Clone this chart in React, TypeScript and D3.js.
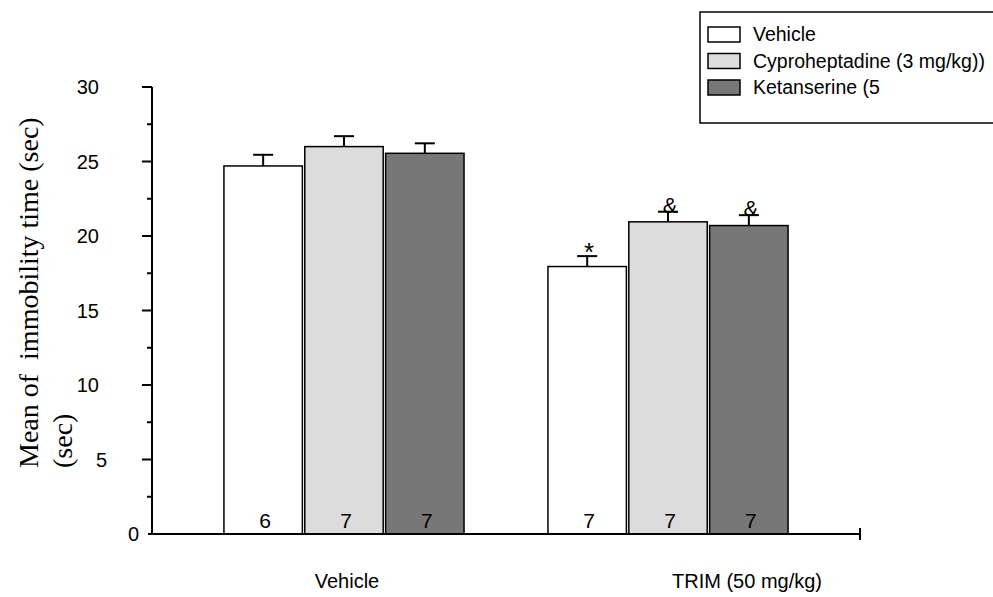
import React from "react";
import * as d3 from "d3";

const groups = ["Vehicle", "TRIM (50 mg/kg)"];
const seriesNames = ["Vehicle", "Cyproheptadine (3 mg/kg))", "Ketanserine (5"];
const seriesFill = ["#ffffff", "#dcdcdc", "#777777"];
const vehicleMeans = [24.7, 26.0, 25.55];
const trimMeans = [17.95, 20.95, 20.7];
const vehicleSem = [0.75, 0.7, 0.67];
const trimSem = [0.7, 0.68, 0.7];
const vehicleN = [6, 7, 7];
const trimN = [7, 7, 7];
const vehicleMarks = ["", "", ""];
const trimMarks = ["*", "&", "&"];
const yTickValues = [0, 5, 10, 15, 20, 25, 30];
const yMinorValues = [2.5, 7.5, 12.5, 17.5, 22.5, 27.5];

const W = 993;
const H = 597;
const AXIS_X0 = 152;
const AXIS_X1 = 860;
const sans = "'Liberation Sans', Arial, sans-serif";
const serif = "'Liberation Serif', 'Times New Roman', serif";

export default function App() {
  const y = d3.scaleLinear().domain([0, 30]).range([534, 87]);
  const x0 = d3
    .scaleBand<string>()
    .domain(groups)
    .range([AXIS_X0, AXIS_X1])
    .paddingInner(0.259)
    .paddingOuter(0.222);
  const x1 = d3
    .scaleBand<string>()
    .domain(seriesNames)
    .range([0, x0.bandwidth()])
    .paddingInner(0.03);

  const rows = [
    { g: groups[0], means: vehicleMeans, sem: vehicleSem, n: vehicleN, marks: vehicleMarks },
    { g: groups[1], means: trimMeans, sem: trimSem, n: trimN, marks: trimMarks },
  ];
  const labelShift = [3, 79];
  const y0 = y(0);

  return (
    <svg
      width={W}
      height={H}
      viewBox={`0 0 ${W} ${H}`}
      style={{ position: "absolute", left: 0, top: 0, background: "#fff" }}
    >
      <rect x={0} y={0} width={W} height={H} fill="#fff" />
      {/* bars */}
      {rows.map((r) => (
        <g key={r.g} transform={`translate(${x0(r.g)},0)`}>
          {seriesNames.map((s, si) => {
            const bx = x1(s)!;
            const bw = x1.bandwidth();
            const cx = bx + bw / 2;
            const top = y(r.means[si]);
            const capY = y(r.means[si] + r.sem[si]);
            return (
              <g key={s}>
                <line x1={cx} x2={cx} y1={top} y2={capY} stroke="#000" strokeWidth={2} />
                <line x1={cx - 10} x2={cx + 10} y1={capY} y2={capY} stroke="#000" strokeWidth={2} />
                <rect
                  x={bx}
                  y={top}
                  width={bw}
                  height={y0 - top}
                  fill={seriesFill[si]}
                  stroke="#000"
                  strokeWidth={1.5}
                />
                <text
                  x={cx + 2}
                  y={528}
                  fontFamily={sans}
                  fontSize={21}
                  textAnchor="middle"
                  fill="#000"
                >
                  {r.n[si]}
                </text>
                {r.marks[si] ? (
                  <text
                    x={cx + 2}
                    y={r.marks[si] === "*" ? capY + 5 : capY + 1}
                    fontFamily={sans}
                    fontSize={r.marks[si] === "*" ? 26 : 22}
                    textAnchor="middle"
                    fill="#000"
                  >
                    {r.marks[si]}
                  </text>
                ) : null}
              </g>
            );
          })}
        </g>
      ))}

      {/* y axis */}
      <line x1={AXIS_X0} x2={AXIS_X0} y1={y(30)} y2={y0} stroke="#000" strokeWidth={2} />
      {yTickValues.map((v) => (
        <g key={v}>
          <line
            x1={v === 0 ? AXIS_X0 - 4 : AXIS_X0 - 10}
            x2={AXIS_X0}
            y1={y(v)}
            y2={y(v)}
            stroke="#000"
            strokeWidth={2}
          />
          <text
            x={v === 0 ? 139 : v < 10 ? 107 : 99}
            y={y(v)}
            dy="0.35em"
            fontFamily={sans}
            fontSize={20}
            textAnchor="end"
            fill="#000"
          >
            {v}
          </text>
        </g>
      ))}
      {yMinorValues.map((v) => (
        <line key={v} x1={AXIS_X0 - 5} x2={AXIS_X0} y1={y(v)} y2={y(v)} stroke="#000" strokeWidth={2} />
      ))}

      {/* x axis */}
      <line x1={AXIS_X0 - 4} x2={AXIS_X1} y1={y0} y2={y0} stroke="#000" strokeWidth={2} />
      <line x1={AXIS_X1} x2={AXIS_X1} y1={y0 - 6} y2={y0 + 6} stroke="#000" strokeWidth={2} />
      {groups.map((g, i) => (
        <text
          key={g}
          x={x0(g)! + x0.bandwidth() / 2 + labelShift[i]}
          y={588}
          fontFamily={sans}
          fontSize={20}
          textAnchor="middle"
          fill="#000"
        >
          {g}
        </text>
      ))}

      {/* y title */}
      <g transform="translate(38,468) rotate(-90)">
        <text x={0} y={0} fontFamily={serif} fontSize={28} fill="#000" style={{ whiteSpace: "pre" }}>
          {"Mean of  immobility time (sec)"}
        </text>
        <text x={0} y={34} fontFamily={serif} fontSize={28} fill="#000">
          (sec)
        </text>
      </g>

      {/* legend */}
      <rect x={700} y={12} width={310} height={111} fill="#fff" stroke="#000" strokeWidth={1.5} />
      {seriesNames.map((s, i) => (
        <g key={s} transform={`translate(708,${27 + i * 26.5})`}>
          <rect x={0} y={0} width={32} height={15} fill={seriesFill[i]} stroke="#000" strokeWidth={1.5} />
          <text x={45} y={14} fontFamily={sans} fontSize={19.5} fill="#000">
            {s}
          </text>
        </g>
      ))}
    </svg>
  );
}
